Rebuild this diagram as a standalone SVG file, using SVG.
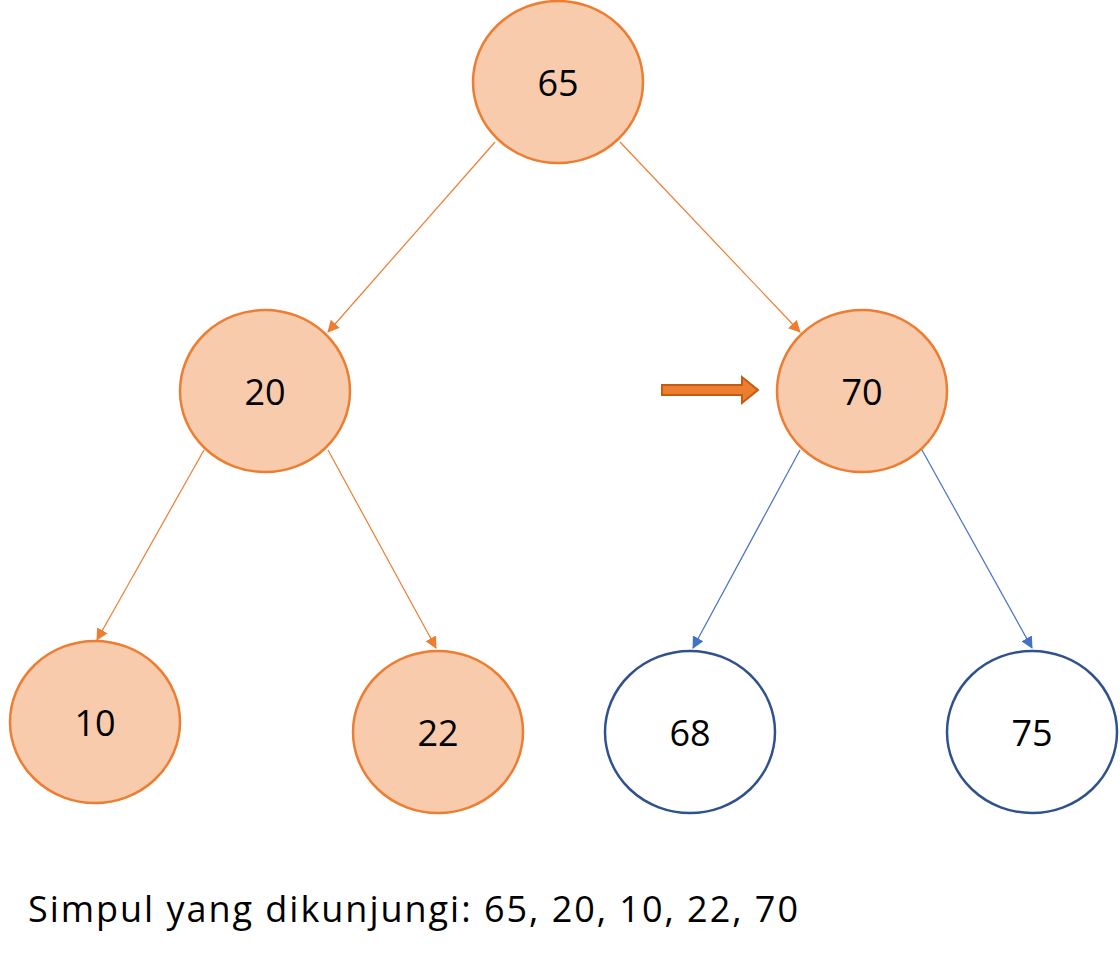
<svg xmlns="http://www.w3.org/2000/svg" width="1120" height="960" viewBox="0 0 1120 960">
<style>
.v{fill:#F8CBAD;stroke:#ED7D31;stroke-width:2.5}
.u{fill:#fff;stroke:#2F528F;stroke-width:2.5}
text{font-family:"Open Sans","Liberation Sans",sans-serif;font-size:36px;fill:#000}
.t{text-anchor:middle;dominant-baseline:central}
.eo{stroke:#ED7D31;stroke-width:1.2;marker-end:url(#mo)}
.eb{stroke:#4472C4;stroke-width:1.2;marker-end:url(#mb)}
</style>
<defs>
<marker id="mo" markerWidth="12" markerHeight="12" refX="11" refY="6" orient="auto" markerUnits="userSpaceOnUse"><path d="M0,0 L12,6 L0,12z" fill="#ED7D31"/></marker>
<marker id="mb" markerWidth="12" markerHeight="12" refX="11" refY="6" orient="auto" markerUnits="userSpaceOnUse"><path d="M0,0 L12,6 L0,12z" fill="#4472C4"/></marker>
</defs>
<g id="connectors">
<line class="eo" x1="495" y1="142" x2="328" y2="332"/>
<line class="eo" x1="620" y1="142" x2="800" y2="332"/>
<line class="eo" x1="204" y1="450" x2="97" y2="640"/>
<line class="eo" x1="328" y1="450" x2="436" y2="648"/>
<line class="eb" x1="800" y1="450" x2="693" y2="648"/>
<line class="eb" x1="922" y1="450" x2="1032" y2="648"/>
</g>
<g id="n65"><ellipse class="v" cx="558" cy="82" rx="85" ry="81"/><text class="t" x="558" y="82">65</text></g>
<g id="n20"><ellipse class="v" cx="265" cy="391" rx="85" ry="81"/><text class="t" x="265" y="391">20</text></g>
<g id="n70"><ellipse class="v" cx="862" cy="391" rx="85" ry="81"/><text class="t" x="862" y="391">70</text></g>
<g id="n10"><ellipse class="v" cx="95" cy="722" rx="85" ry="81"/><text class="t" x="95" y="722">10</text></g>
<g id="n22"><ellipse class="v" cx="438" cy="732" rx="85" ry="81"/><text class="t" x="438" y="732">22</text></g>
<g id="n68"><ellipse class="u" cx="690" cy="732" rx="85" ry="81"/><text class="t" x="690" y="732">68</text></g>
<g id="n75"><ellipse class="u" cx="1032" cy="732" rx="85" ry="81"/><text class="t" x="1032" y="732">75</text></g>
<g id="pointer"><path d="M662,385 L742,385 L742,377 L758,390 L742,403 L742,395 L662,395z" fill="#ED7D31" stroke="#C55A11" stroke-width="2"/></g>
<text x="28" y="922" textLength="770">Simpul yang dikunjungi: 65, 20, 10, 22, 70</text>
</svg>
